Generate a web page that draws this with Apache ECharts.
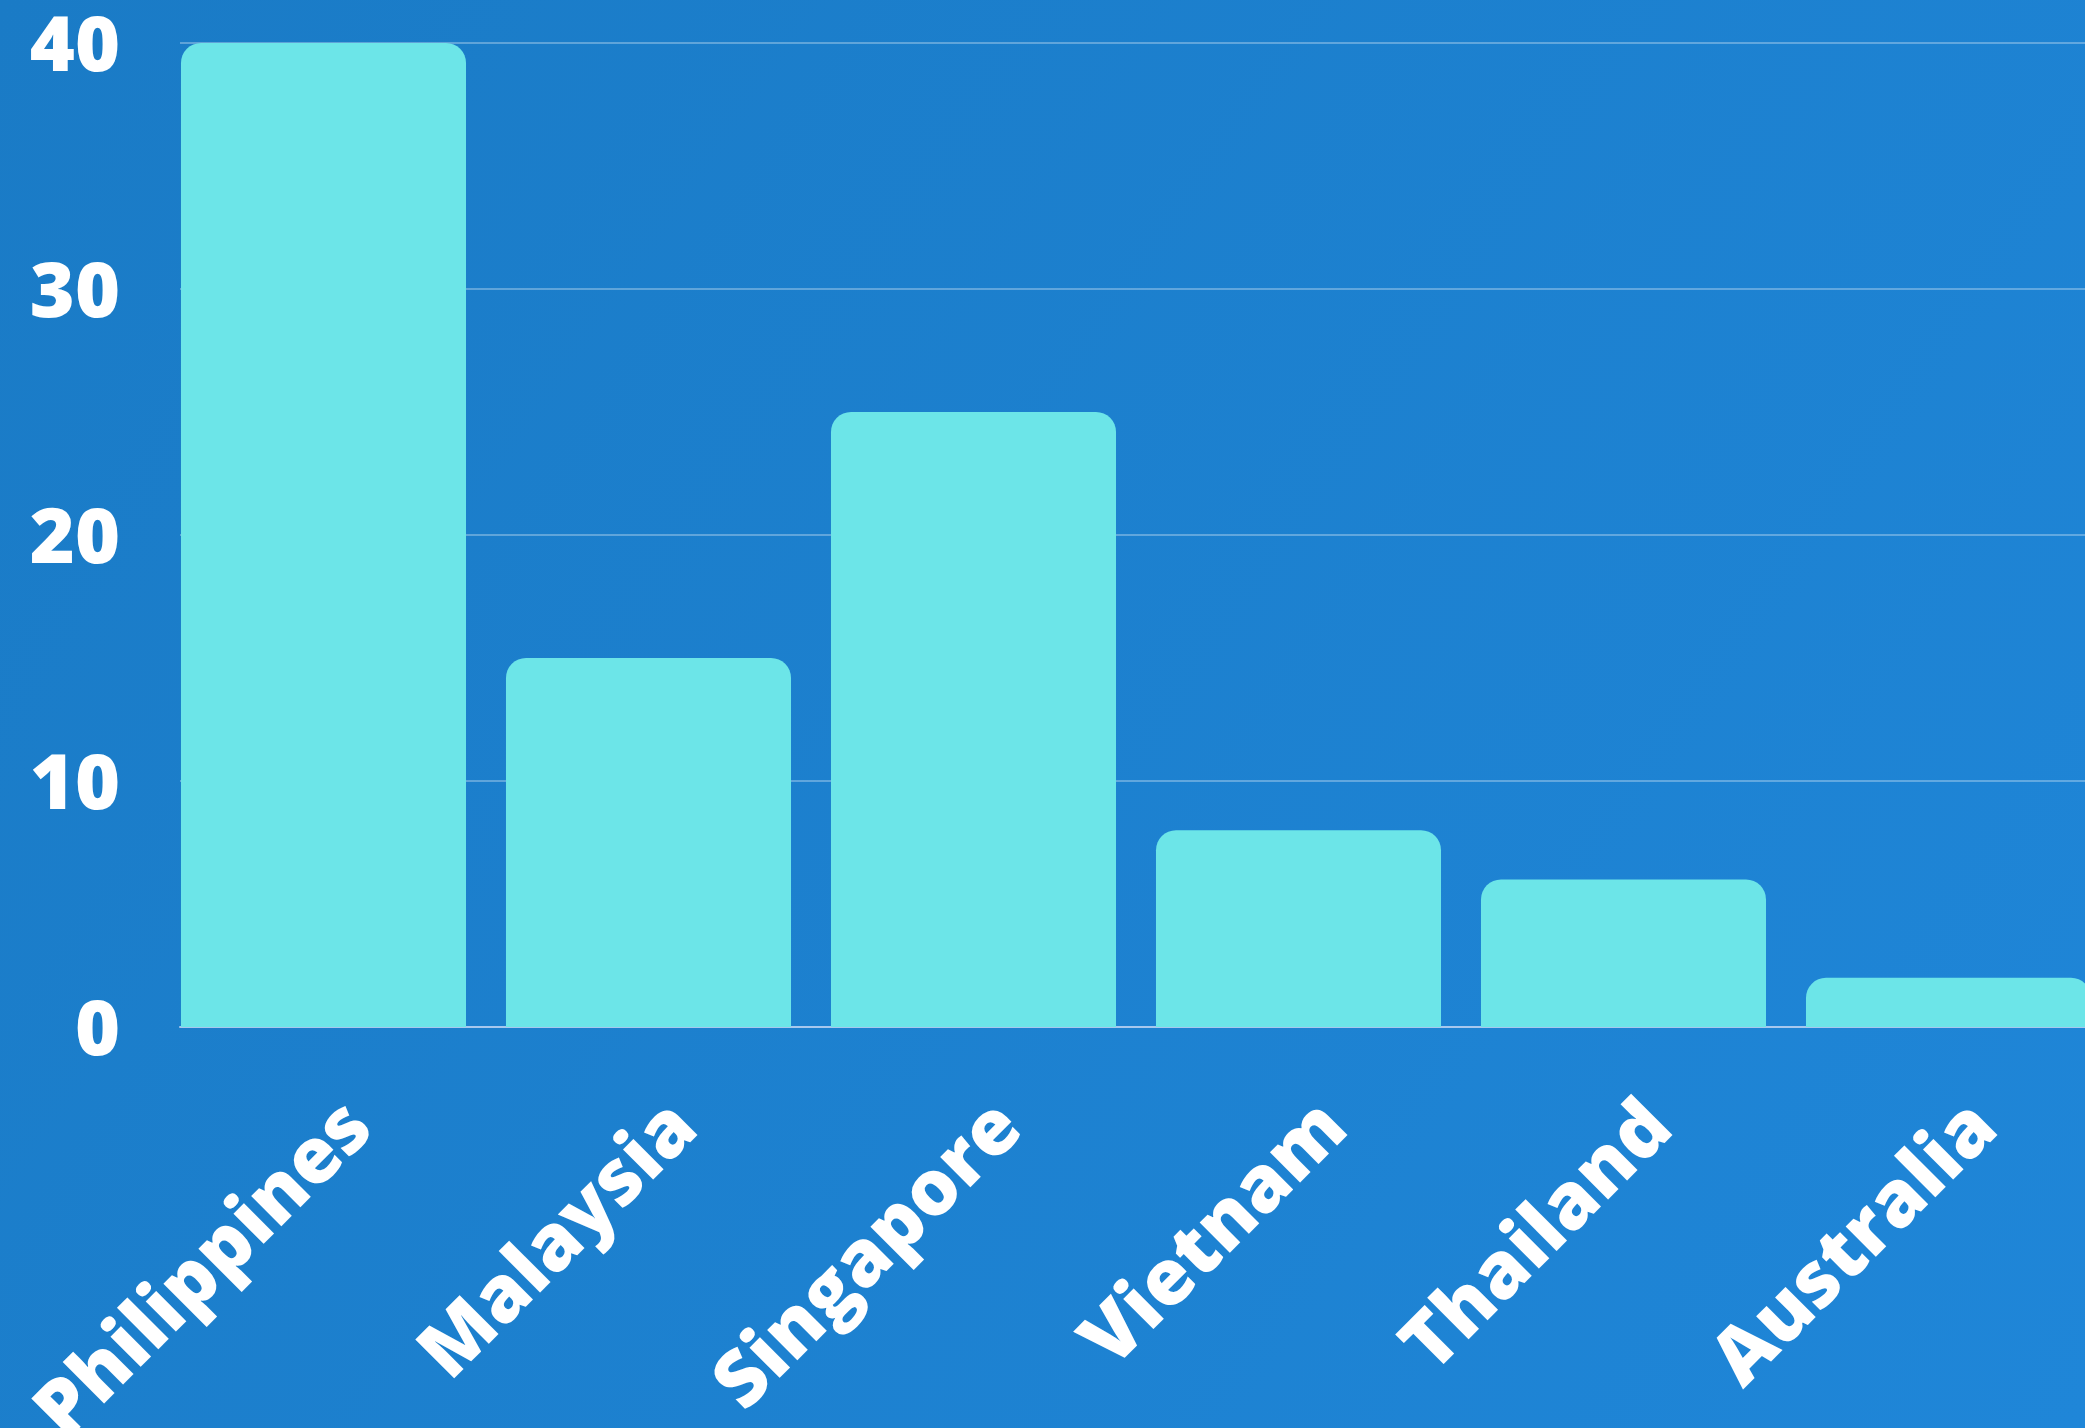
<!DOCTYPE html>
<html>
<head>
<meta charset="utf-8">
<script src="https://cdn.jsdelivr.net/npm/echarts@6/dist/echarts.min.js"></script>
<style>
  html, body { margin: 0; padding: 0; }
  #chart { width: 2085px; height: 1428px; }
</style>
</head>
<body>
<div id="chart"></div>
<script>
// data
const categories = ['Philippines', 'Malaysia', 'Singapore', 'Vietnam', 'Thailand', 'Australia'];
const values = [40, 15, 25, 8, 6, 2];
const yMin = 0;
const yMax = 40;
const yStep = 10;

const chart = echarts.init(document.getElementById('chart'));

const labelFont = {
  color: '#ffffff',
  fontFamily: 'Open Sans',
  fontWeight: 800,
  fontSize: 77
};

const option = {
  backgroundColor: new echarts.graphic.LinearGradient(0, 0, 1, 1, [
    { offset: 0, color: '#1a7bc6' },
    { offset: 1, color: '#1f86d8' }
  ]),
  animation: false,
  grid: [
    // bars (wider than the canvas, last bar is cut off)
    { left: 161, width: 1950, top: 43, bottom: 401, outerBoundsMode: 'none' },
    // grid lines, base line
    { left: 180, right: 0, top: 43, bottom: 401 },
    // text labels (nudged a few px down / right)
    { left: 198, width: 1950, top: 49, bottom: 395, outerBoundsMode: 'none' }
  ],
  xAxis: [
    {
      gridIndex: 0, type: 'category', data: categories,
      axisLine: { show: false }, axisTick: { show: false }, axisLabel: { show: false }
    },
    {
      gridIndex: 1, type: 'value', min: 0, max: 1,
      axisLine: { show: true, lineStyle: { color: '#a7c8ee', width: 2 } },
      axisTick: { show: false }, axisLabel: { show: false }, splitLine: { show: false }
    },
    {
      gridIndex: 2, type: 'category', data: categories,
      axisLine: { show: false }, axisTick: { show: false },
      axisLabel: Object.assign({ rotate: 45, margin: 83, interval: 0 }, labelFont)
    }
  ],
  yAxis: [
    {
      gridIndex: 0, type: 'value', min: yMin, max: yMax, interval: yStep,
      axisLabel: { show: false }, splitLine: { show: false }, axisLine: { show: false }
    },
    {
      gridIndex: 1, type: 'value', min: yMin, max: yMax, interval: yStep,
      axisLine: { show: false }, axisTick: { show: false }, axisLabel: { show: false },
      splitLine: { show: true, lineStyle: { color: 'rgba(255,255,255,0.3)', width: 2 } }
    },
    {
      gridIndex: 2, type: 'value', min: yMin, max: yMax, interval: yStep,
      axisLine: { show: false }, axisTick: { show: false }, splitLine: { show: false },
      axisLabel: Object.assign({ margin: 78 }, labelFont)
    }
  ],
  series: [
    {
      type: 'bar',
      xAxisIndex: 0,
      yAxisIndex: 0,
      data: values,
      barCategoryGap: '12.3%',
      itemStyle: {
        color: '#6ce5e8',
        borderRadius: [20, 20, 0, 0]
      }
    }
  ]
};

chart.setOption(option);
</script>
</body>
</html>
